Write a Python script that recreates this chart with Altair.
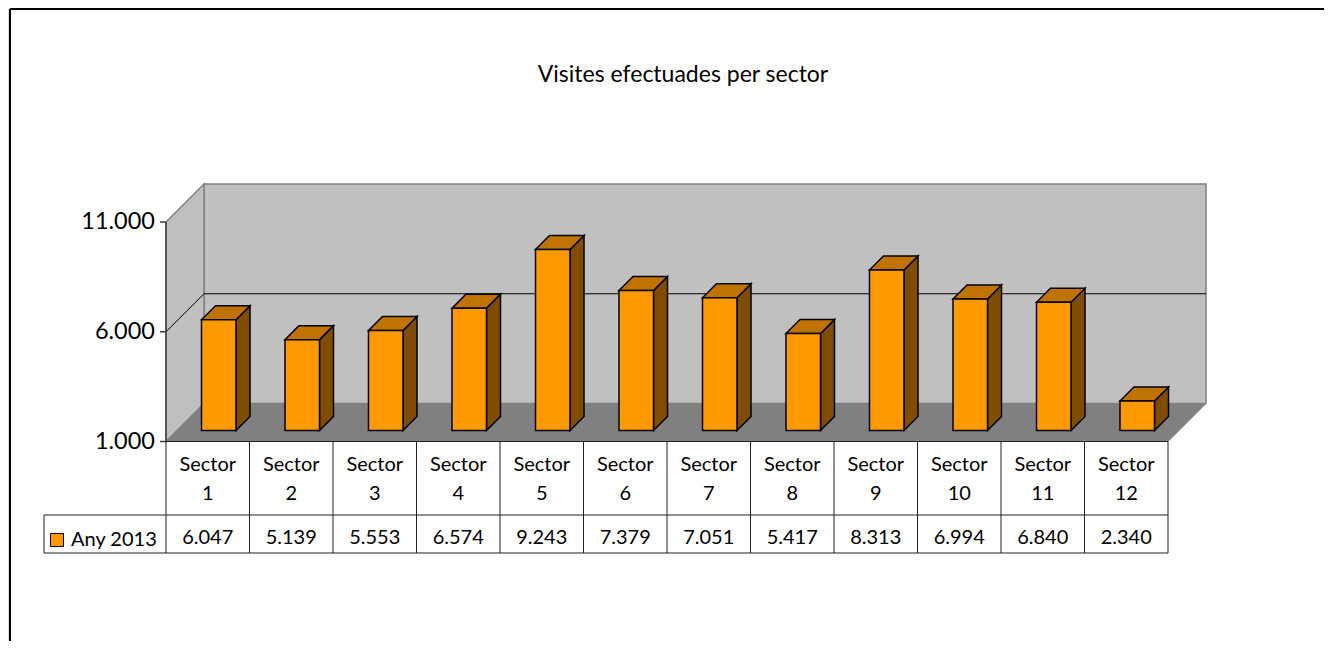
import altair as alt
import pandas as pd

# ---------------- data ----------------
sectors = ["Sector 1", "Sector 2", "Sector 3", "Sector 4", "Sector 5", "Sector 6",
           "Sector 7", "Sector 8", "Sector 9", "Sector 10", "Sector 11", "Sector 12"]
sector_nums = ["1", "2", "3", "4", "5", "6", "7", "8", "9", "10", "11", "12"]
values = [6047, 5139, 5553, 6574, 9243, 7379, 7051, 5417, 8313, 6994, 6840, 2340]
value_labels = ["6.047", "5.139", "5.553", "6.574", "9.243", "7.379",
                "7.051", "5.417", "8.313", "6.994", "6.840", "2.340"]
series_name = "Any 2013"
title_text = "Visites efectuades per sector"
y_ticks = [1000, 6000, 11000]
y_tick_labels = ["1.000", "6.000", "11.000"]
Y_MIN, Y_MAX = 1000, 11000

# ---------------- layout (pixels) ----------------
W, H = 1316, 633
X0 = 158.0          # front-left of the category axis
CW = 83.5           # width of one category
Y1 = 433.5          # pixel of Y_MIN on the front plane
PPV = 21.95 / 1000  # pixels per unit
DEPTH = 38.0        # depth of the walls/floor
FD = 11.0           # bar front depth
BD = 14.0           # bar depth
BW = 34.5           # bar width
FONT = "Lato"

n = len(values)
dxu = lambda px: px / CW
dyu = lambda px: px / PPV

xs = alt.Scale(domain=[-X0 / CW, (W - X0) / CW], nice=False, zero=False)
ys = alt.Scale(domain=[Y_MIN - (H - Y1) / PPV, Y_MIN + Y1 / PPV], nice=False, zero=False)


def X(f):
    return alt.X(f, type="quantitative", scale=xs, axis=None)


def Y(f):
    return alt.Y(f, type="quantitative", scale=ys, axis=None)


layers = []

# frame
frame = pd.DataFrame({"a": [0]})
layers.append(alt.Chart(frame).mark_rule(color="#000000", strokeWidth=2).encode(
    x=alt.value(2), x2=alt.value(W), y=alt.value(1)))
layers.append(alt.Chart(frame).mark_rule(color="#000000", strokeWidth=2).encode(
    x=alt.value(2), y=alt.value(1), y2=alt.value(H)))

# title
layers.append(alt.Chart(pd.DataFrame({"t": [title_text]})).mark_text(
    font=FONT, fontSize=23, color="#000000", baseline="middle", align="center").encode(
    x=alt.value(675), y=alt.value(67), text="t:N"))

Dx, Dy = dxu(DEPTH), dyu(DEPTH)

# back wall
back = pd.DataFrame({"x": [Dx], "x2": [n + Dx], "y": [Y_MIN + Dy], "y2": [Y_MAX + Dy]})
layers.append(alt.Chart(back).mark_rect(fill="#C0C0C0", stroke="#808080", strokeWidth=1.5).encode(
    x=X("x"), x2="x2", y=Y("y"), y2="y2"))

# side wall
side = pd.DataFrame({"x": [0, Dx], "y": [Y_MIN, Y_MIN + Dy], "y2": [Y_MAX, Y_MAX + Dy]})
layers.append(alt.Chart(side).mark_area(orient="vertical", fill="#C0C0C0", stroke="#808080",
                                        strokeWidth=1.5).encode(
    x=X("x"), y=Y("y"), y2="y2"))

# gridline at inner tick(s)
grid_vals = [v for v in y_ticks if Y_MIN < v < Y_MAX]
g_back = pd.DataFrame({"x": [Dx] * len(grid_vals), "x2": [n + Dx] * len(grid_vals),
                       "y": [v + Dy for v in grid_vals]})
layers.append(alt.Chart(g_back).mark_rule(color="#000000", strokeWidth=1).encode(
    x=X("x"), x2="x2", y=Y("y")))
g_side = pd.DataFrame({"x": [0] * len(grid_vals), "x2": [Dx] * len(grid_vals),
                       "y": grid_vals, "y2": [v + Dy for v in grid_vals]})
layers.append(alt.Chart(g_side).mark_rule(color="#000000", strokeWidth=1).encode(
    x=X("x"), x2="x2", y=Y("y"), y2="y2"))

# floor
floor = pd.DataFrame({"y": [Y_MIN, Y_MIN + Dy], "x": [0, Dx], "x2": [n, n + Dx]})
layers.append(alt.Chart(floor).mark_area(orient="horizontal", fill="#808080", stroke="#808080",
                                         strokeWidth=1).encode(
    y=Y("y"), x=X("x"), x2="x2"))

# front axis line + ticks + labels
layers.append(alt.Chart(pd.DataFrame({"x": [0], "y": [Y_MIN], "y2": [Y_MAX]})).mark_rule(
    color="#404040", strokeWidth=1.5).encode(x=X("x"), y=Y("y"), y2="y2"))
ticks = pd.DataFrame({"v": y_ticks, "lab": y_tick_labels, "x": [dxu(-6)] * len(y_ticks),
                      "x2": [0] * len(y_ticks), "xl": [dxu(-11)] * len(y_ticks)})
layers.append(alt.Chart(ticks).mark_rule(color="#404040", strokeWidth=1.5).encode(
    x=X("x"), x2="x2", y=Y("v")))
layers.append(alt.Chart(ticks).mark_text(font=FONT, fontSize=23.5, align="right",
                                         baseline="middle", color="#000000").encode(
    x=X("xl"), y=Y("v"), text="lab:N"))

# bars
fd_x, fd_y = dxu(FD), dyu(FD)
bd_x, bd_y = dxu(BD), dyu(BD)
front_rows, top_rows, side_rows = [], [], []
for i, v in enumerate(values):
    xl = i + 0.5 - dxu(BW) / 2 + fd_x
    xr = xl + dxu(BW)
    front_rows.append({"bar": i, "x": xl, "x2": xr, "y": Y_MIN + fd_y, "y2": v + fd_y,
                       "series": series_name})
    top_rows.append({"bar": i, "y": v + fd_y, "x": xl, "x2": xr})
    top_rows.append({"bar": i, "y": v + fd_y + bd_y, "x": xl + bd_x, "x2": xr + bd_x})
    side_rows.append({"bar": i, "x": xr, "y": Y_MIN + fd_y, "y2": v + fd_y})
    side_rows.append({"bar": i, "x": xr + bd_x, "y": Y_MIN + fd_y + bd_y, "y2": v + fd_y + bd_y})

layers.append(alt.Chart(pd.DataFrame(side_rows)).mark_area(
    orient="vertical", fill="#7F4C00", stroke="#000000", strokeWidth=1.5,
    strokeJoin="miter").encode(x=X("x"), y=Y("y"), y2="y2", detail="bar:N"))
layers.append(alt.Chart(pd.DataFrame(top_rows)).mark_area(
    orient="horizontal", fill="#C07300", stroke="#000000", strokeWidth=1.5,
    strokeJoin="miter").encode(y=Y("y"), x=X("x"), x2="x2", detail="bar:N"))
layers.append(alt.Chart(pd.DataFrame(front_rows)).mark_rect(
    stroke="#000000", strokeWidth=1.5, opacity=1).encode(
    x=X("x"), x2="x2", y=Y("y"), y2="y2",
    color=alt.Color("series:N", scale=alt.Scale(domain=[series_name], range=["#FF9900"]),
                    legend=alt.Legend(orient="none", legendX=39, legendY=522, title=None,
                                      symbolType="square", symbolSize=170,
                                      symbolStrokeColor="#000000", symbolStrokeWidth=1,
                                      labelFont=FONT, labelFontSize=20, labelColor="#000000",
                                      padding=0, labelOffset=4))))

# data table
LX = dxu(-122)  # left edge of legend cell
T_TOP, T_MID, T_BOT = 433.5, 507, 545
vl = pd.DataFrame({"x": list(range(n + 1))})
layers.append(alt.Chart(vl).mark_rule(color="#202020", strokeWidth=1).encode(
    x=X("x"), y=alt.value(T_TOP), y2=alt.value(T_BOT)))
hl = pd.DataFrame({"x": [LX, LX, 0], "x2": [n, n, n], "yy": [T_MID, T_BOT, T_TOP]})
for _, r in hl.iterrows():
    layers.append(alt.Chart(pd.DataFrame([r])).mark_rule(color="#202020", strokeWidth=1).encode(
        x=X("x"), x2="x2", y=alt.value(r["yy"])))
layers.append(alt.Chart(pd.DataFrame({"x": [LX]})).mark_rule(color="#202020", strokeWidth=1).encode(
    x=X("x"), y=alt.value(T_MID), y2=alt.value(T_BOT)))

tbl = pd.DataFrame({"xc": [i + 0.5 for i in range(n)], "num": sector_nums, "val": value_labels,
                    "word": ["Sector"] * n})
for field, yy in [("word", 457), ("num", 486), ("val", 530)]:
    layers.append(alt.Chart(tbl).mark_text(font=FONT, fontSize=20, align="center",
                                           baseline="middle", color="#000000").encode(
        x=X("xc"), y=alt.value(yy), text=f"{field}:N"))

chart = alt.layer(*layers).properties(
    width=W, height=H, padding=0, autosize=alt.AutoSizeParams(type="none")
).configure_view(stroke=None).configure(background="#FFFFFF")

chart.save("out.html", embed_options={"renderer": "svg", "actions": False})
